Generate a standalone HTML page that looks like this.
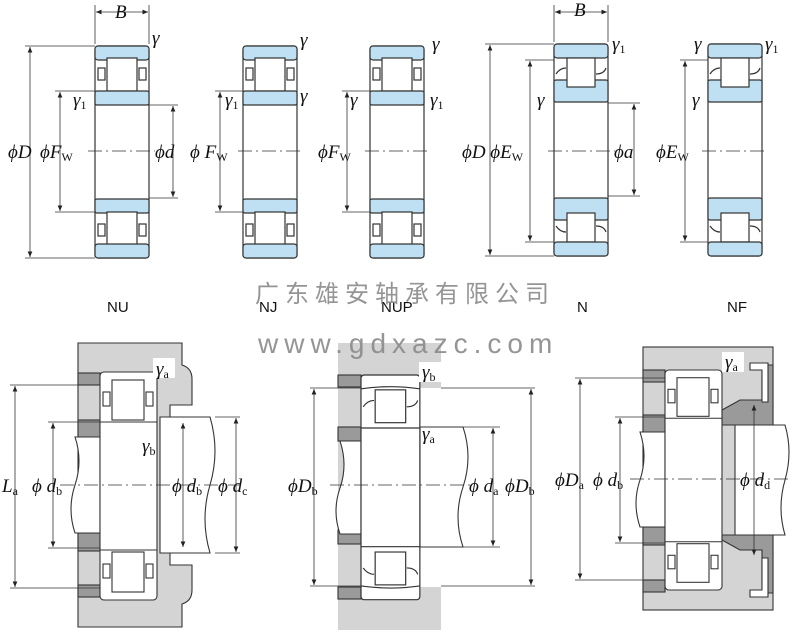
<!DOCTYPE html>
<html><head><meta charset="utf-8"><style>
html,body{margin:0;padding:0;background:#fff}
svg{display:block}
.t{font-family:"Liberation Serif",serif;font-style:italic;font-size:19px;fill:#111}
.s{font-size:12px;font-style:normal}
.lab{font-family:"Liberation Sans",sans-serif;font-size:15px;fill:#111}
.wm{font-family:"Liberation Sans","Noto Sans CJK SC",sans-serif;fill:#8a8a8a;font-size:24px;letter-spacing:6px;opacity:0.9}
</style></head><body>
<svg width="800" height="641" viewBox="0 0 800 641" xmlns="http://www.w3.org/2000/svg">
<defs>
<marker id="a" markerWidth="8" markerHeight="8" refX="7" refY="4" orient="auto-start-reverse"><path d="M0,1 L7,4 L0,7z" fill="#222"/></marker>
<g id="nu" stroke="#333" stroke-width="1.2">
<rect x="0" y="0" width="54" height="212" rx="3" fill="#fff"/>
<rect x="0" y="0" width="54" height="14" rx="3" fill="#bfe0f2"/>
<rect x="12" y="12" width="30" height="33" fill="#fff"/>
<rect x="3" y="22" width="7" height="12" fill="#fff"/><rect x="44" y="22" width="7" height="12" fill="#fff"/>
<rect x="0" y="45" width="54" height="14" rx="2" fill="#bfe0f2"/>
<rect x="0" y="153" width="54" height="14" rx="2" fill="#bfe0f2"/>
<rect x="12" y="166" width="30" height="33" fill="#fff"/>
<rect x="3" y="178" width="7" height="12" fill="#fff"/><rect x="44" y="178" width="7" height="12" fill="#fff"/>
<rect x="0" y="198" width="54" height="14" rx="3" fill="#bfe0f2"/>
</g>
<g id="n" stroke="#333" stroke-width="1.2">
<rect x="0" y="0" width="54" height="212" rx="3" fill="#fff"/>
<rect x="0" y="0" width="54" height="14" rx="3" fill="#bfe0f2"/>
<rect x="0" y="36" width="54" height="22" rx="2" fill="#bfe0f2"/>
<rect x="13" y="14" width="28" height="29" fill="#fff"/>
<path d="M2,30 q4,-6 10,-6 M42,30 q8,0 10,-6" fill="none"/>
<rect x="0" y="154" width="54" height="22" rx="2" fill="#bfe0f2"/>
<rect x="13" y="169" width="28" height="29" fill="#fff"/>
<path d="M2,182 q4,6 10,6 M42,182 q8,0 10,6" fill="none"/>
<rect x="0" y="198" width="54" height="14" rx="3" fill="#bfe0f2"/>
</g>
<g id="nw" stroke="#333" stroke-width="1.1" fill="#fff">
<rect x="0" y="0" width="54" height="212" rx="3"/>
<path d="M0,13 q27,-4 54,0" fill="none"/>
<line x1="0" y1="50" x2="54" y2="50"/>
<rect x="13" y="14" width="28" height="31"/>
<path d="M2,30 q4,-6 10,-6 M42,30 q8,0 10,-6" fill="none"/>
<line x1="0" y1="162" x2="54" y2="162"/>
<rect x="13" y="167" width="28" height="31"/>
<path d="M2,182 q4,6 10,6 M42,182 q8,0 10,6" fill="none"/>
<path d="M0,199 q27,4 54,0" fill="none"/>
</g>
<g id="bb" stroke="#333" stroke-width="1.1">
<rect x="0" y="0" width="57" height="228" rx="4" fill="#fff"/>
<rect x="12" y="8" width="32" height="40" fill="#fff"/>
<rect x="3" y="20" width="7" height="14" fill="#fff"/><rect x="46" y="20" width="7" height="14" fill="#fff"/>
<line x1="0" y1="50" x2="57" y2="50"/><line x1="0" y1="178" x2="57" y2="178"/>
<rect x="12" y="180" width="32" height="40" fill="#fff"/>
<rect x="3" y="192" width="7" height="14" fill="#fff"/><rect x="46" y="192" width="7" height="14" fill="#fff"/>
</g>
</defs>

<use href="#nu" x="95" y="46"/>
<use href="#nu" x="243" y="46"/>
<use href="#nu" x="370" y="46"/>
<use href="#n" x="554" y="44"/>
<use href="#n" x="708" y="44"/>

<g stroke="#333" stroke-width="0.8" fill="none">
<line x1="95" y1="5" x2="95" y2="44"/><line x1="149" y1="5" x2="149" y2="44"/>
<line x1="96" y1="12" x2="148" y2="12" marker-start="url(#a)" marker-end="url(#a)"/>
<line x1="554" y1="5" x2="554" y2="42"/><line x1="608" y1="5" x2="608" y2="42"/>
<line x1="555" y1="12" x2="607" y2="12" marker-start="url(#a)" marker-end="url(#a)"/>
<line x1="25" y1="46" x2="95" y2="46"/><line x1="25" y1="258" x2="95" y2="258"/>
<line x1="30" y1="47" x2="30" y2="257" marker-start="url(#a)" marker-end="url(#a)"/>
<line x1="55" y1="91" x2="95" y2="91"/><line x1="55" y1="212" x2="95" y2="212"/>
<line x1="60" y1="92" x2="60" y2="211" marker-start="url(#a)" marker-end="url(#a)"/>
<line x1="149" y1="105" x2="178" y2="105"/><line x1="149" y1="198" x2="178" y2="198"/>
<line x1="173" y1="106" x2="173" y2="197" marker-start="url(#a)" marker-end="url(#a)"/>
<line x1="215" y1="91" x2="243" y2="91"/><line x1="215" y1="212" x2="243" y2="212"/>
<line x1="220" y1="92" x2="220" y2="211" marker-start="url(#a)" marker-end="url(#a)"/>
<line x1="342" y1="91" x2="370" y2="91"/><line x1="342" y1="212" x2="370" y2="212"/>
<line x1="347" y1="92" x2="347" y2="211" marker-start="url(#a)" marker-end="url(#a)"/>
<line x1="485" y1="44" x2="554" y2="44"/><line x1="485" y1="256" x2="554" y2="256"/>
<line x1="490" y1="45" x2="490" y2="255" marker-start="url(#a)" marker-end="url(#a)"/>
<line x1="525" y1="60" x2="554" y2="60"/><line x1="525" y1="242" x2="554" y2="242"/>
<line x1="530" y1="61" x2="530" y2="241" marker-start="url(#a)" marker-end="url(#a)"/>
<line x1="608" y1="103" x2="640" y2="103"/><line x1="608" y1="196" x2="640" y2="196"/>
<line x1="634" y1="104" x2="634" y2="195" marker-start="url(#a)" marker-end="url(#a)"/>
<line x1="680" y1="60" x2="708" y2="60"/><line x1="680" y1="242" x2="708" y2="242"/>
<line x1="685" y1="61" x2="685" y2="241" marker-start="url(#a)" marker-end="url(#a)"/>
<g stroke-dasharray="14,4,2,4">
<line x1="88" y1="151" x2="155" y2="151"/><line x1="238" y1="151" x2="302" y2="151"/>
<line x1="365" y1="151" x2="430" y2="151"/><line x1="548" y1="151" x2="615" y2="151"/>
<line x1="702" y1="151" x2="768" y2="151"/></g>
</g>

<g class="t">
<text x="115" y="18">B</text><text x="574" y="16">B</text>
<text x="152" y="44">γ</text><text x="73" y="106">γ<tspan class="s" dy="3">1</tspan></text>
<text x="8" y="158">ϕ<tspan>D</tspan></text><text x="40" y="158">ϕF<tspan class="s" dy="3">W</tspan></text>
<text x="155" y="158">ϕd</text>
<text x="300" y="46">γ</text><text x="300" y="102">γ</text><text x="225" y="106">γ<tspan class="s" dy="3">1</tspan></text>
<text x="190" y="158">ϕ F<tspan class="s" dy="3">W</tspan></text>
<text x="432" y="50">γ</text><text x="430" y="106">γ<tspan class="s" dy="3">1</tspan></text><text x="350" y="106">γ</text>
<text x="318" y="158">ϕF<tspan class="s" dy="3">W</tspan></text>
<text x="612" y="50">γ<tspan class="s" dy="3">1</tspan></text><text x="537" y="106">γ</text>
<text x="462" y="158">ϕD ϕE<tspan class="s" dy="3">W</tspan></text>
<text x="614" y="158">ϕa</text>
<text x="694" y="50">γ</text><text x="765" y="50">γ<tspan class="s" dy="3">1</tspan></text><text x="692" y="106">γ</text>
<text x="656" y="158">ϕE<tspan class="s" dy="3">W</tspan></text>
</g>

<g class="lab"><text x="107" y="312">NU</text><text x="259" y="312">NJ</text><text x="381" y="312">NUP</text><text x="577" y="312">N</text><text x="727" y="312">NF</text></g>

<!-- bottom left -->
<g stroke="#333" stroke-width="1.1">
<path d="M78,343 H182 V365 q10,3 10,14 V405 H170 V565 H192 V590 q0,11 -10,14 V627 H78z" fill="#d4d4d4"/>
<rect x="78" y="373" width="22" height="12" fill="#9a9a9a"/><rect x="78" y="420" width="22" height="18" fill="#9a9a9a"/>
<rect x="78" y="533" width="22" height="18" fill="#9a9a9a"/><rect x="78" y="585" width="22" height="12" fill="#9a9a9a"/>
<path d="M75,437 H100 V533 H75 q-8,-24 0,-48 q8,-24 0,-48z" fill="#fff"/>
<path d="M160,417 H210 q10,34 0,68 q-10,34 0,68 H160z" fill="#fff"/>
<use href="#bb" x="100" y="372"/>
</g>
<!-- bottom middle -->
<g stroke="#333" stroke-width="1.1">
<rect x="338" y="343" width="103" height="287" fill="#d4d4d4" stroke="none"/>
<rect x="420" y="388" width="22" height="199" fill="#fff" stroke="none"/>
<rect x="338" y="375" width="23" height="12" fill="#9a9a9a"/><rect x="338" y="427" width="23" height="14" fill="#9a9a9a"/>
<rect x="338" y="530" width="23" height="14" fill="#9a9a9a"/><rect x="338" y="587" width="23" height="12" fill="#9a9a9a"/>
<path d="M340,441 H361 V534 H340 q-8,-23 0,-46 q8,-23 0,-47z" fill="#fff"/>
<path d="M420,427 H463 q10,30 0,60 q-10,30 0,60 H420z" fill="#fff"/>
<use href="#nw" transform="translate(361,375) scale(1.09,1.06)"/>
</g>
<!-- bottom right -->
<g stroke="#333" stroke-width="1.1">
<rect x="643" y="347" width="130" height="263" fill="#d4d4d4"/>
<rect x="643" y="370" width="22" height="12" fill="#9a9a9a"/><rect x="643" y="415" width="22" height="18" fill="#9a9a9a"/>
<rect x="643" y="527" width="22" height="18" fill="#9a9a9a"/><rect x="643" y="580" width="22" height="12" fill="#9a9a9a"/>
<path d="M722,410 L740,400 H762 V365 H773 V425 H722z" fill="#9a9a9a"/>
<path d="M722,540 L740,550 H762 V593 H773 V535 H722z" fill="#9a9a9a"/>
<path d="M750,363 H768 V402 H762 V370 H750z" fill="#fff"/>
<path d="M750,597 H768 V558 H762 V590 H750z" fill="#fff"/>
<path d="M640,432 H665 V527 H640 q-8,-24 0,-47 q8,-24 0,-48z" fill="#fff"/>
<path d="M735,425 H785 q8,27 0,55 q-8,28 0,55 H735z" fill="#fff"/>
<use href="#bb" transform="translate(665,370) scale(1,0.965)"/>
</g>

<g stroke="#333" stroke-width="0.8" fill="none">
<line x1="10" y1="385" x2="100" y2="385"/><line x1="10" y1="588" x2="100" y2="588"/>
<line x1="15" y1="386" x2="15" y2="587" marker-start="url(#a)" marker-end="url(#a)"/>
<line x1="48" y1="422" x2="100" y2="422"/><line x1="48" y1="548" x2="100" y2="548"/>
<line x1="53" y1="423" x2="53" y2="547" marker-start="url(#a)" marker-end="url(#a)"/>
<line x1="183" y1="423" x2="183" y2="547" marker-start="url(#a)" marker-end="url(#a)"/>
<line x1="215" y1="417" x2="240" y2="417"/><line x1="215" y1="553" x2="240" y2="553"/>
<line x1="236" y1="418" x2="236" y2="552" marker-start="url(#a)" marker-end="url(#a)"/>
<line x1="310" y1="388" x2="361" y2="388"/><line x1="310" y1="586" x2="361" y2="586"/>
<line x1="314" y1="389" x2="314" y2="585" marker-start="url(#a)" marker-end="url(#a)"/>
<line x1="441" y1="388" x2="535" y2="388"/><line x1="441" y1="586" x2="535" y2="586"/>
<line x1="531" y1="389" x2="531" y2="585" marker-start="url(#a)" marker-end="url(#a)"/>
<line x1="463" y1="427" x2="500" y2="427"/><line x1="463" y1="547" x2="500" y2="547"/>
<line x1="493" y1="428" x2="493" y2="546" marker-start="url(#a)" marker-end="url(#a)"/>
<line x1="575" y1="378" x2="665" y2="378"/><line x1="575" y1="580" x2="665" y2="580"/>
<line x1="580" y1="379" x2="580" y2="579" marker-start="url(#a)" marker-end="url(#a)"/>
<line x1="615" y1="417" x2="665" y2="417"/><line x1="615" y1="543" x2="665" y2="543"/>
<line x1="620" y1="418" x2="620" y2="542" marker-start="url(#a)" marker-end="url(#a)"/>
<line x1="754" y1="405" x2="754" y2="555" marker-start="url(#a)" marker-end="url(#a)"/>
<g stroke-dasharray="14,4,2,4">
<line x1="60" y1="485" x2="240" y2="485"/><line x1="330" y1="485" x2="470" y2="485"/>
<line x1="630" y1="479" x2="790" y2="479"/></g>
</g>
<g class="t">
<rect x="153" y="358" width="22" height="20" fill="#fff"/>
<text x="156" y="375">γ<tspan class="s" dy="3">a</tspan></text>
<text x="142" y="452">γ<tspan class="s" dy="3">b</tspan></text>
<text x="2" y="492">L<tspan class="s" dy="3">a</tspan></text>
<text x="32" y="492">ϕ d<tspan class="s" dy="3">b</tspan></text>
<text x="172" y="492">ϕ d<tspan class="s" dy="3">b</tspan></text>
<text x="218" y="492">ϕ d<tspan class="s" dy="3">c</tspan></text>
<rect x="419" y="362" width="22" height="20" fill="#fff"/>
<text x="422" y="378">γ<tspan class="s" dy="3">b</tspan></text>
<text x="422" y="440">γ<tspan class="s" dy="3">a</tspan></text>
<text x="288" y="492">ϕD<tspan class="s" dy="3">b</tspan></text>
<text x="469" y="492">ϕ d<tspan class="s" dy="3">a</tspan></text>
<text x="505" y="492">ϕD<tspan class="s" dy="3">b</tspan></text>
<rect x="722" y="352" width="22" height="20" fill="#fff"/>
<text x="725" y="368">γ<tspan class="s" dy="3">a</tspan></text>
<text x="555" y="486">ϕD<tspan class="s" dy="3">a</tspan></text>
<text x="593" y="486">ϕ d<tspan class="s" dy="3">b</tspan></text>
<text x="740" y="486">ϕ d<tspan class="s" dy="3">d</tspan></text>
</g>
<text class="wm" x="255" y="302">广东雄安轴承有限公司</text>
<text class="wm" x="258" y="353" style="font-size:28px">www.gdxazc.com</text>
</svg>
</body></html>
